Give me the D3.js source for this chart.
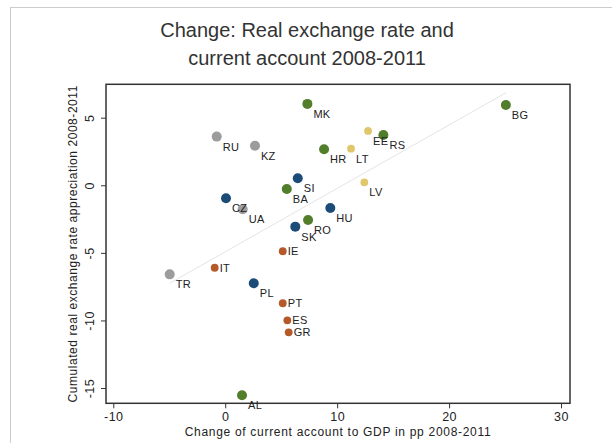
<!DOCTYPE html>
<html>
<head>
  <meta charset="utf-8">
  <script src="https://d3js.org/d3.v7.min.js"></script>
  <style>
    body { margin: 0; background: #fff; }
    text { font-family: "Liberation Sans", Arial, sans-serif; }
  </style>
</head>
<body>
  <svg id="chart" width="612" height="446"></svg>
  <script>
    // data
    let countries = ["MK", "BG", "RU", "KZ", "HR", "EE", "RS", "LT", "LV", "SI", "BA", "CZ",
                     "UA", "HU", "RO", "SK", "IE", "IT", "TR", "PL", "PT", "ES", "GR", "AL"];
    let caChange  = [7.34, 25.07, -0.76, 2.66, 8.83, 12.76, 14.13, 11.24, 12.43, 6.48, 5.50, 0.07,
                     1.56, 9.39, 7.40, 6.26, 5.14, -0.94, -4.96, 2.55, 5.14, 5.55, 5.67, 1.50];
    let rerChange = [6.02, 5.94, 3.60, 2.93, 2.66, 4.02, 3.72, 2.71, 0.22, 0.52, -0.27, -0.96,
                     -1.78, -1.68, -2.57, -3.06, -4.88, -6.10, -6.59, -7.25, -8.73, -9.99, -10.88, -15.54];
    let groups    = ["see", "see", "cis", "cis", "see", "balt", "see", "balt", "balt", "cee", "see", "cee",
                     "cis", "cee", "see", "cee", "south", "south", "cis", "cee", "south", "south", "south", "see"];
    let fitX = [-4.96, 25.09];
    let fitY = [-7.25, 6.85];
    let xTicks = [-10, 0, 10, 20, 30];
    let yTicks = [-15, -10, -5, 0, 5];

    let colors = { see: "#527d2b", cee: "#1d4b78", cis: "#9c9c9c", balt: "#e0c76b", south: "#b5592b" };
    let small = { balt: true, south: true };

    let svg = d3.select("#chart");

    // light outer frame
    svg.append("line").attr("x1", 10).attr("x2", 612).attr("y1", 7.5).attr("y2", 7.5)
      .attr("stroke", "#cccccc");
    svg.append("line").attr("x1", 10.5).attr("x2", 10.5).attr("y1", 7).attr("y2", 443)
      .attr("stroke", "#cccccc");

    // title
    let title = svg.append("text").attr("text-anchor", "middle").attr("fill", "#333")
      .style("font-size", "20px");
    title.append("tspan").attr("x", 307).attr("y", 37).text("Change: Real exchange rate and");
    title.append("tspan").attr("x", 307).attr("y", 64.5).text("current account 2008-2011");

    let pLeft = 106, pRight = 570, pTop = 84.3, pBottom = 403.3;

    let x = d3.scaleLinear().domain([-10.65, 30.8]).range([pLeft, pRight]);
    let y = d3.scaleLinear().domain([-16.13, 7.47]).range([pBottom, pTop]);

    // plain hyphen minus, like the original
    let fmt = d => String(d);

    // x axis
    let xAxis = svg.append("g").attr("transform", `translate(0,${pBottom})`)
      .call(d3.axisBottom(x).tickValues(xTicks).tickSize(5).tickPadding(4).tickFormat(fmt));
    xAxis.select(".domain").remove();
    xAxis.selectAll("line").attr("stroke", "#333");
    xAxis.selectAll("text").attr("fill", "#222").style("font-size", "12.5px")
      .style("letter-spacing", "0.5px");

    // y axis with rotated labels
    let yAxis = svg.append("g").attr("transform", `translate(${pLeft},0)`)
      .call(d3.axisLeft(y).tickValues(yTicks).tickSize(5).tickFormat(fmt));
    yAxis.select(".domain").remove();
    yAxis.selectAll("line").attr("stroke", "#333");
    yAxis.selectAll("text")
      .attr("x", null)
      .attr("text-anchor", "middle")
      .attr("transform", "translate(-16,0) rotate(-90)")
      .attr("dy", "0.35em")
      .attr("fill", "#222").style("font-size", "12.5px")
      .style("letter-spacing", "0.5px");

    // fit line
    svg.append("line")
      .attr("x1", x(fitX[0])).attr("y1", y(fitY[0]))
      .attr("x2", x(fitX[1])).attr("y2", y(fitY[1]))
      .attr("stroke", "#e4e4e4").attr("stroke-width", 1);

    // plot frame
    svg.append("rect").attr("x", pLeft).attr("y", pTop)
      .attr("width", pRight - pLeft).attr("height", pBottom - pTop)
      .attr("fill", "none").attr("stroke", "#333").attr("stroke-width", 1.5);

    let pts = countries.map((c, i) => ({ c: c, x: caChange[i], y: rerChange[i], g: groups[i] }));

    svg.selectAll("circle.pt").data(pts).enter().append("circle")
      .attr("class", "pt")
      .attr("cx", d => x(d.x)).attr("cy", d => y(d.y))
      .attr("r", d => small[d.g] ? 3.9 : 5)
      .attr("fill", d => colors[d.g]);

    svg.selectAll("text.lbl").data(pts).enter().append("text")
      .attr("class", "lbl")
      .attr("x", d => x(d.x) + (small[d.g] ? 5 : 6))
      .attr("y", d => y(d.y) + (d.g == "south" ? 4 : 14))
      .attr("fill", "#222").style("font-size", "11px")
      .style("letter-spacing", "0.3px")
      .text(d => d.c);

    // axis titles
    svg.append("text").attr("x", (pLeft + pRight) / 2).attr("y", 436)
      .attr("text-anchor", "middle").attr("fill", "#222").style("font-size", "12px")
      .style("letter-spacing", "0.7px")
      .text("Change of current account to GDP in pp 2008-2011");
    svg.append("text").attr("transform", `translate(77,${(pTop + pBottom) / 2}) rotate(-90)`)
      .attr("text-anchor", "middle").attr("fill", "#222").style("font-size", "12px")
      .style("letter-spacing", "0.55px")
      .text("Cumulated real exchange rate appreciation 2008-2011");
  </script>
</body>
</html>
